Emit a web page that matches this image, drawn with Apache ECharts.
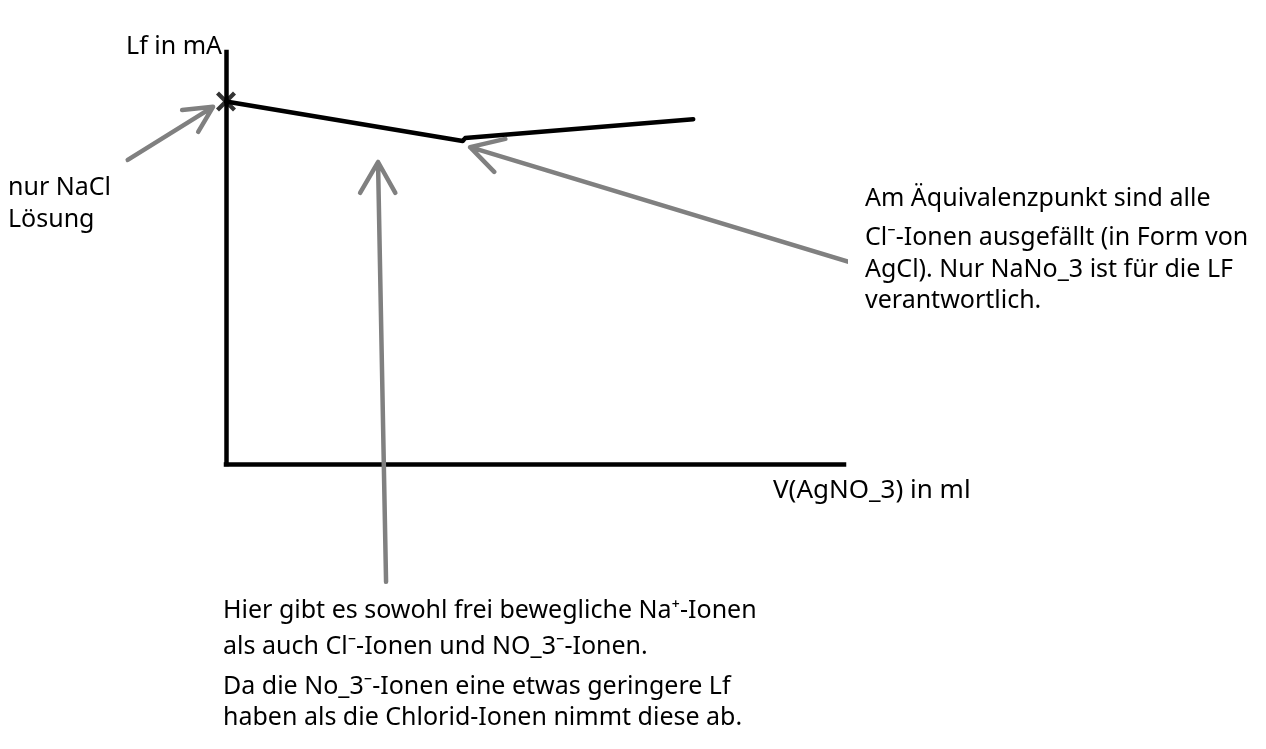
<!DOCTYPE html>
<html><head><meta charset="utf-8">
<script src="https://cdn.jsdelivr.net/npm/echarts@6/dist/echarts.min.js"></script>
<style>html,body{margin:0;padding:0;background:#fff}#c{width:1266px;height:749px}</style>
</head><body><div id="c"></div>
<script>
// Sketched conductivity curve (arbitrary units, no tick labels in the original)
const curveX = [0, 3.83, 3.87, 7.56];
const curveY = [8.8, 7.84, 7.91, 8.37];
const startPoint = [0, 8.8];
// Annotation arrows: tail, tip, wing, tip, wing
const arrowNaClX = [-1.59, -0.21, -0.71, -0.21, -0.45];
const arrowNaClY = [7.38, 8.67, 8.59, 8.67, 8.06];
const arrowMidX = [2.59, 2.46, 2.17, 2.46, 2.74];
const arrowMidY = [-2.86, 7.33, 6.58, 7.33, 6.58];
const arrowEqX = [10.13, 3.95, 4.52, 3.95, 4.34];
const arrowEqY = [4.88, 7.69, 7.89, 7.69, 7.09];
const yAxisName = 'Lf in mA';
const xAxisName = 'V(AgNO_3) in ml';
const noteNaCl = ['nur NaCl', 'Lösung'];
const noteEq = ['Am Äquivalenzpunkt sind alle', 'Cl⁻-Ionen ausgefällt (in Form von', 'AgCl). Nur NaNo_3 ist für die LF', 'verantwortlich.'];
const noteMid = ['Hier gibt es sowohl frei bewegliche Na⁺-Ionen', 'als auch Cl⁻-Ionen und NO_3⁻-Ionen.', 'Da die No_3⁻-Ionen eine etwas geringere Lf', 'haben als die Chlorid-Ionen nimmt diese ab.'];

const zip = (xs, ys) => xs.map((x, i) => [x, ys[i]]);
const FONT = '"Noto Sans", sans-serif';
const FS = 25;
const arrowSeries = (xs, ys) => ({
  type: 'line', xAxisIndex: 1, yAxisIndex: 1, data: zip(xs, ys), symbol: 'none', clip: false, silent: true,
  lineStyle: { color: '#808080', width: 4.5, cap: 'round', join: 'round' }
});
const textBlock = (lines, left, mids) => lines.map((t, i) => ({
  type: 'text', x: left, y: mids[i],
  style: { text: t, font: FS + 'px ' + FONT, fill: '#000', verticalAlign: 'middle', align: 'left' }
}));

const chart = echarts.init(document.getElementById('c'));
const axisCommon = {
  type: 'value', min: 0, max: 10,
  axisLine: { show: true, onZero: false, lineStyle: { color: '#000', width: 4.5, cap: 'square' } },
  axisTick: { show: false }, axisLabel: { show: false }, splitLine: { show: false }
};
const hiddenAxis = {
  type: 'value', show: false, axisLine: { show: false }, axisTick: { show: false },
  axisLabel: { show: false }, splitLine: { show: false }
};
chart.setOption({
  animation: false,
  backgroundColor: '#fff',
  textStyle: { fontFamily: FONT },
  grid: [
    { left: 226, right: 422, top: 52, bottom: 285 },
    // same scale as the visible grid, extended so annotation arrows can reach outside the axes
    { left: 102.4, right: 422, top: 52, bottom: 161.4 }
  ],
  xAxis: [
    Object.assign({}, axisCommon, {
      gridIndex: 0, name: xAxisName, nameLocation: 'end', nameGap: -71,
      nameTextStyle: { fontSize: 26, color: '#000', align: 'left', verticalAlign: 'top', padding: [14, 0, 0, 0] }
    }),
    Object.assign({}, hiddenAxis, { gridIndex: 1, min: -2, max: 10 })
  ],
  yAxis: [
    Object.assign({}, axisCommon, {
      gridIndex: 0, name: yAxisName, nameLocation: 'end', nameGap: -7,
      nameTextStyle: { fontSize: FS, color: '#000', align: 'right', verticalAlign: 'bottom', padding: [0, 4, 0, 0] }
    }),
    Object.assign({}, hiddenAxis, { gridIndex: 1, min: -3, max: 10 })
  ],
  series: [
    { type: 'line', data: zip(curveX, curveY), symbol: 'none', clip: false,
      lineStyle: { color: '#000', width: 4.5, cap: 'round', join: 'round' } },
    arrowSeries(arrowNaClX, arrowNaClY),
    arrowSeries(arrowMidX, arrowMidY),
    arrowSeries(arrowEqX, arrowEqY),
    { type: 'scatter', data: [startPoint], symbol: 'path://M0,3 L3,0 L10,7 L17,0 L20,3 L13,10 L20,17 L17,20 L10,13 L3,20 L0,17 L7,10 Z',
      symbolSize: 20, itemStyle: { color: '#000' }, clip: false, z: 5 }
  ],
  graphic: [].concat(
    textBlock(noteNaCl, 8, [188, 220]),
    textBlock(noteEq, 865, [199, 238, 270, 301]),
    textBlock(noteMid, 223, [611, 647, 687, 718])
  )
});
</script></body></html>
